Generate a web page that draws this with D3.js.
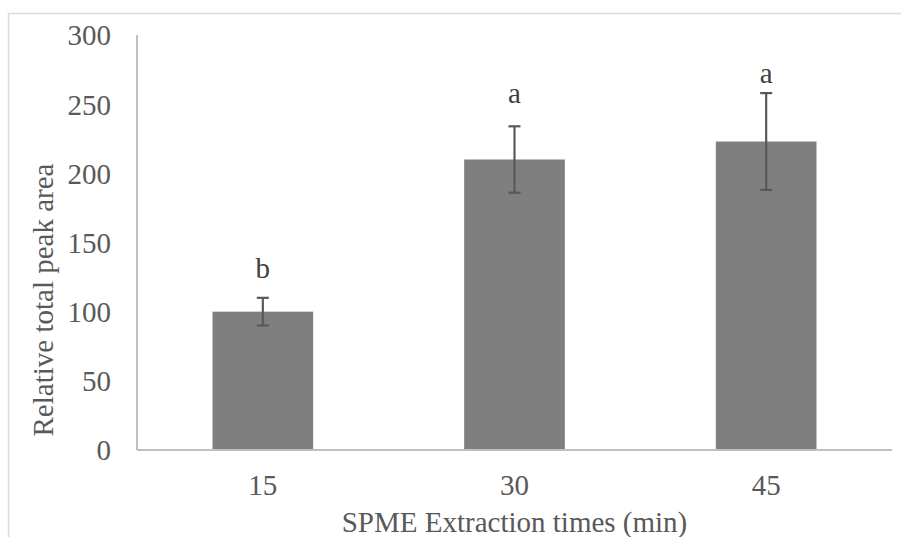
<!DOCTYPE html>
<html>
<head>
<meta charset="utf-8">
<script src="https://cdn.jsdelivr.net/npm/d3@7"></script>
<style>
  body { margin: 0; background: #fff; }
  svg text { font-family: "Liberation Serif", "Times New Roman", serif; }
</style>
</head>
<body>
<div id="chart"></div>
<script>
// data
const categories = ["15", "30", "45"];
const values = [100, 210, 223];
const errors = [10, 24, 35];
const letters = ["b", "a", "a"];
const letterAt = [124, 251, 265];   // baseline of each letter, in y units
const yTicks = [0, 50, 100, 150, 200, 250, 300];

const width = 901, height = 537;
const margin = {top: 35, right: 9, bottom: 87, left: 137};

let svg = d3.select("#chart")
    .append("svg")
    .attr("width", width)
    .attr("height", height);

// outer chart border (cut off at right / bottom)
svg.append("rect")
    .attr("x", 8.5)
    .attr("y", 13.5)
    .attr("width", width)
    .attr("height", height)
    .attr("fill", "none")
    .attr("stroke", "#d9d9d9")
    .attr("stroke-width", 1.5);

let x = d3.scaleBand()
    .domain(categories)
    .range([margin.left, width - margin.right]);

let y = d3.scaleLinear()
    .domain([0, 300])
    .range([height - margin.bottom, margin.top]);

let barW = x.bandwidth() * 0.4;

// y tick labels
let yAxis = svg.append("g")
    .attr("transform", `translate(${margin.left},0)`)
    .call(d3.axisLeft(y).tickValues(yTicks).tickSize(0).tickPadding(26));
yAxis.select(".domain").remove();
yAxis.selectAll("text")
    .style("font-size", "29px")
    .attr("fill", "#595959")
    .attr("dy", "0.34em");

// bars
svg.selectAll("rect.bar")
    .data(values)
    .enter()
    .append("rect")
    .attr("class", "bar")
    .attr("fill", "#7f7f7f")
    .attr("x", (d, i) => x(categories[i]) + (x.bandwidth() - barW) / 2)
    .attr("y", d => y(d))
    .attr("width", barW)
    .attr("height", d => y(0) - y(d));

// axis lines
svg.append("line")
    .attr("x1", margin.left).attr("x2", margin.left)
    .attr("y1", y(300)).attr("y2", y(0))
    .attr("stroke", "#bfbfbf").attr("stroke-width", 2);
svg.append("line")
    .attr("x1", margin.left).attr("x2", width - margin.right)
    .attr("y1", y(0)).attr("y2", y(0))
    .attr("stroke", "#bfbfbf").attr("stroke-width", 2);

// error bars
let err = svg.append("g").attr("stroke", "#595959").attr("stroke-width", 2.2);
values.forEach((v, i) => {
    let cx = x(categories[i]) + x.bandwidth() / 2;
    err.append("line")
        .attr("x1", cx).attr("x2", cx)
        .attr("y1", y(v + errors[i])).attr("y2", y(v - errors[i]));
    [v + errors[i], v - errors[i]].forEach(e => {
        err.append("line")
            .attr("x1", cx - 6).attr("x2", cx + 6)
            .attr("y1", y(e)).attr("y2", y(e));
    });
});

// significance letters
svg.selectAll("text.sig")
    .data(letters)
    .enter()
    .append("text")
    .attr("class", "sig")
    .attr("x", (d, i) => x(categories[i]) + x.bandwidth() / 2)
    .attr("y", (d, i) => y(letterAt[i]))
    .style("text-anchor", "middle")
    .style("font-size", "29px")
    .attr("fill", "#404040")
    .text(d => d);

// x tick labels
let xAxis = svg.append("g")
    .attr("transform", `translate(0,${y(0)})`)
    .call(d3.axisBottom(x).tickSize(0).tickPadding(24));
xAxis.select(".domain").remove();
xAxis.selectAll("text")
    .style("font-size", "29px")
    .attr("fill", "#595959");

// axis titles
svg.append("text")
    .attr("x", (margin.left + width - margin.right) / 2)
    .attr("y", 532)
    .style("text-anchor", "middle")
    .style("font-size", "29px")
    .attr("fill", "#595959")
    .text("SPME Extraction times (min)");

svg.append("text")
    .attr("transform", `translate(${53}, ${300}) rotate(-90)`)
    .style("text-anchor", "middle")
    .style("font-size", "29px")
    .attr("fill", "#595959")
    .text("Relative total peak area");
</script>
</body>
</html>
